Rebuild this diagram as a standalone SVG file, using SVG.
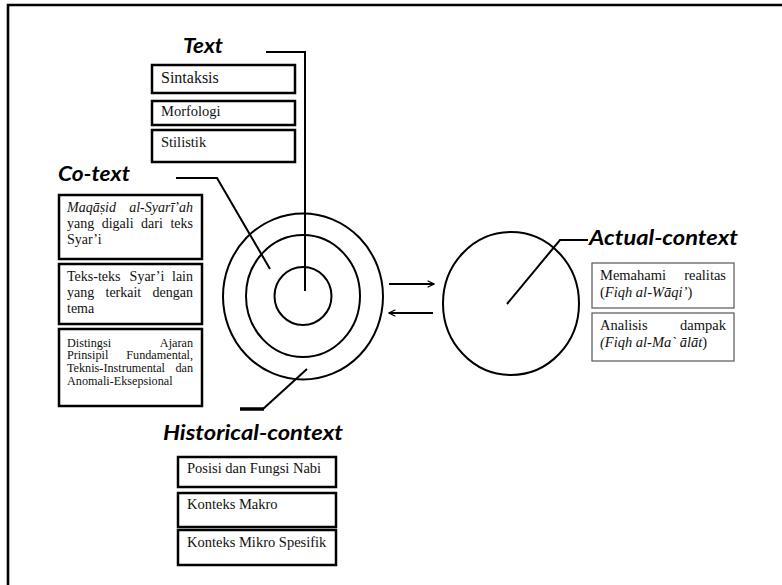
<svg xmlns="http://www.w3.org/2000/svg" width="782" height="585" viewBox="0 0 782 585">
  <style>
    .title { font-family: Lato, "Open Sans", "Liberation Sans", sans-serif; font-weight: bold; font-style: italic; font-size: 20px; fill: #000; }
    .box { fill: #fff; stroke: #000; stroke-width: 2.5; }
    .thin { fill: #fff; stroke: #555; stroke-width: 1.2; }
    .t { font-family: "Liberation Serif", "Times New Roman", serif; font-size: 14.5px; fill: #111; }
    .c { font-family: "Liberation Serif", "Times New Roman", serif; font-size: 14px; fill: #111; }
    .s { font-family: "Liberation Serif", "Times New Roman", serif; font-size: 12.2px; fill: #111; }
    .i { font-style: italic; }
    .end { text-anchor: end; }
    .ring { fill: none; stroke: #000; stroke-width: 2; }
    .lead { fill: none; stroke: #000; stroke-width: 2; }
  </style>
  <defs>
    <marker id="head" viewBox="0 0 10 10" refX="9" refY="5" markerWidth="8" markerHeight="8" markerUnits="userSpaceOnUse" orient="auto">
      <polyline points="1,1 9,5 1,9" fill="none" stroke="#000" stroke-width="1.6"/>
    </marker>
  </defs>

  <rect width="782" height="585" fill="#fff"/>
  <!-- frame -->
  <path d="M8,585 V5 H782" fill="none" stroke="#000" stroke-width="2.6"/>

  <!-- concentric rings -->
  <g id="rings">
    <ellipse class="ring" cx="303" cy="296.5" rx="80" ry="83"/>
    <ellipse class="ring" cx="303" cy="296" rx="57" ry="61"/>
    <ellipse class="ring" cx="303" cy="296" rx="28.5" ry="29"/>
  </g>

  <g id="actual-circle">
    <ellipse class="ring" cx="511" cy="303.5" rx="68" ry="71.5"/>
  </g>

  <!-- connectors -->
  <g id="connectors">
    <polyline class="lead" points="266,52 305,52 305,291"/>
    <polyline class="lead" points="176,178 217,178 270,269"/>
    <polyline class="lead" points="307,369 263,409"/>
    <line x1="240" y1="409" x2="264" y2="409" stroke="#000" stroke-width="3.5"/>
    <polyline class="lead" points="507,304 560,240 588,240"/>
    <line x1="389" y1="284" x2="434" y2="284" stroke="#000" stroke-width="2" marker-end="url(#head)"/>
    <line x1="433" y1="313" x2="389" y2="313" stroke="#000" stroke-width="2" marker-end="url(#head)"/>
  </g>

  <!-- Text -->
  <g id="text-node">
    <text class="title" x="183" y="53" textLength="40" lengthAdjust="spacingAndGlyphs">Text</text>
    <rect class="box" x="152" y="65" width="143" height="28"/>
    <text class="t" x="161" y="83" style="font-size:16px">Sintaksis</text>
    <rect class="box" x="152" y="101" width="143" height="24"/>
    <text class="t" x="161" y="116">Morfologi</text>
    <rect class="box" x="152" y="130" width="143" height="32"/>
    <text class="t" x="161" y="147">Stilistik</text>
  </g>

  <!-- Co-text -->
  <g id="co-text-node">
    <text class="title" x="58" y="181" textLength="72" lengthAdjust="spacingAndGlyphs">Co-text</text>
    <rect class="box" x="59" y="195" width="143" height="64"/>
    <text class="c i" x="67" y="212">Maqāṣid</text>
    <text class="c i end" x="193" y="212">al-Syarī’ah</text>
    <text class="c" x="67" y="228">yang</text>
    <text class="c" x="101.7" y="228">digali</text>
    <text class="c" x="141.1" y="228">dari</text>
    <text class="c end" x="193" y="228">teks</text>
    <text class="c" x="67" y="244">Syar’i</text>

    <rect class="box" x="59" y="264" width="143" height="60"/>
    <text class="c" x="67" y="281">Teks-teks</text>
    <text class="c" x="129.6" y="281">Syar’i</text>
    <text class="c end" x="193" y="281">lain</text>
    <text class="c" x="67" y="297">yang</text>
    <text class="c" x="105.5" y="297">terkait</text>
    <text class="c end" x="193" y="297">dengan</text>
    <text class="c" x="67" y="313">tema</text>

    <rect class="box" x="59" y="329" width="143" height="77"/>
    <text class="s" x="67" y="346.5">Distingsi</text>
    <text class="s end" x="193" y="346.5">Ajaran</text>
    <text class="s" x="67" y="359.3">Prinsipil</text>
    <text class="s end" x="193" y="359.3">Fundamental,</text>
    <text class="s" x="67" y="372.1">Teknis-Instrumental</text>
    <text class="s end" x="193" y="372.1">dan</text>
    <text class="s" x="67" y="384.9">Anomali-Eksepsional</text>
  </g>

  <!-- Actual-context -->
  <g id="actual-context-node">
    <text class="title" x="589" y="245" textLength="149" lengthAdjust="spacingAndGlyphs">Actual-context</text>
    <rect class="thin" x="592" y="263" width="142" height="45"/>
    <text class="t" x="600" y="280">Memahami</text>
    <text class="t end" x="726" y="280">realitas</text>
    <text class="t" x="600" y="297">(<tspan class="i">Fiqh al-Wāqi’</tspan>)</text>
    <rect class="thin" x="592" y="313" width="142" height="48"/>
    <text class="t" x="600" y="330">Analisis</text>
    <text class="t end" x="726" y="330">dampak</text>
    <text class="t" x="600" y="347"><tspan class="i">(Fiqh al-Ma` ālāt</tspan>)</text>
  </g>

  <!-- Historical-context -->
  <g id="historical-context-node">
    <text class="title" x="163" y="440" textLength="180" lengthAdjust="spacingAndGlyphs">Historical-context</text>
    <rect class="box" x="178" y="457" width="158" height="30"/>
    <text class="t" x="187" y="473">Posisi dan Fungsi Nabi</text>
    <rect class="box" x="178" y="493" width="158" height="34"/>
    <text class="t" x="187" y="509">Konteks Makro</text>
    <rect class="box" x="178" y="530" width="158" height="35"/>
    <text class="t" x="187" y="547">Konteks Mikro Spesifik</text>
  </g>
</svg>
